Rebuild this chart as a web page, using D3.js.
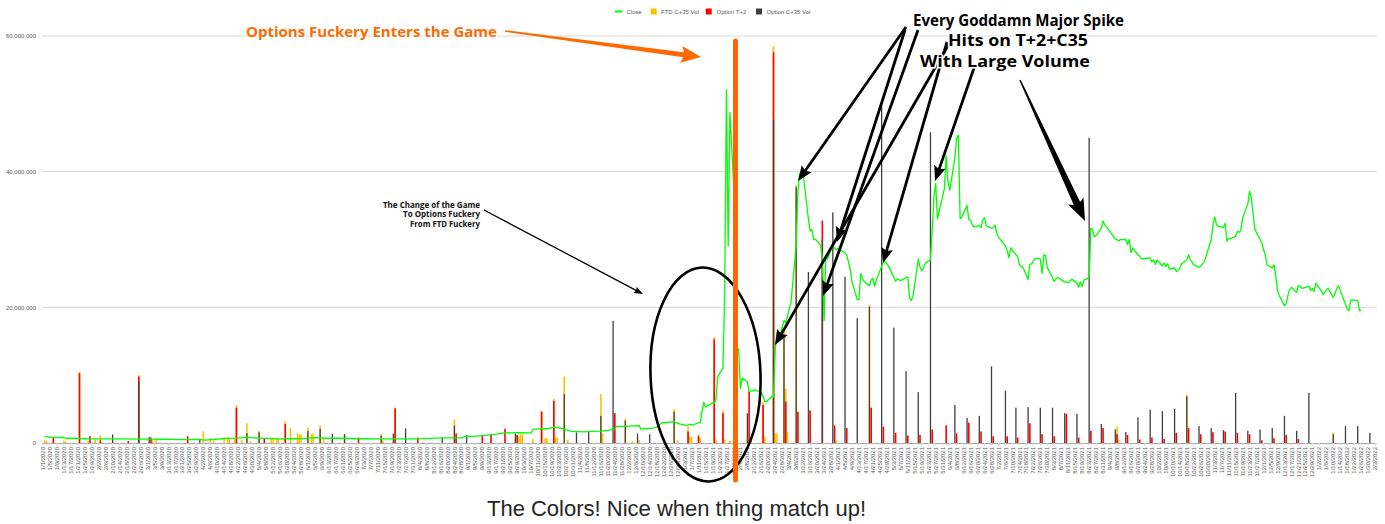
<!DOCTYPE html>
<html><head><meta charset="utf-8">
<script src="https://cdn.jsdelivr.net/npm/d3@7"></script>
<style>body{margin:0;background:#fff;} svg{display:block;}</style>
</head><body><svg id="c" width="1385" height="524"></svg>
<script>
// ---------------- DATA (values in millions) ----------------
const startDate = "1/1/2020", endDate = "2/3/2022";
const yTicks = [0, 20, 40, 60];
const yTickLabels = ["0", "20,000,000", "40,000,000", "60,000,000"];
const legendLabels = ["Close", "FTD C+35 Vol", "Option T+2", "Option C+35 Vol"];
const captionText = "The Colors! Nice when thing match up!";
const titleOrange = "Options Fuckery Enters the Game";
const noteBig = ["Every Goddamn Major Spike", "Hits on T+2+C35", "With Large Volume"];
const noteSmall = ["The Change of the Game", "To Options Fuckery", "From FTD Fuckery"];

const closeSeries = [
["1/2/2020",0.95],["1/7/2020",0.83],["1/13/2020",0.81],["1/14/2020",0.70],["1/21/2020",0.66],["1/28/2020",0.62],
["2/4/2020",0.60],["2/11/2020",0.61],["2/18/2020",0.62],["2/25/2020",0.57],["3/3/2020",0.58],["3/10/2020",0.55],
["3/17/2020",0.53],["3/24/2020",0.50],["3/31/2020",0.53],["4/3/2020",0.42],["4/9/2020",0.55],["4/14/2020",0.66],
["4/21/2020",0.72],["4/27/2020",0.82],["5/1/2020",0.75],["5/8/2020",0.68],["5/15/2020",0.62],["5/22/2020",0.63],
["5/29/2020",0.64],["6/5/2020",0.78],["6/12/2020",0.70],["6/19/2020",0.70],["6/26/2020",0.66],["7/2/2020",0.63],
["7/10/2020",0.60],["7/17/2020",0.61],["7/24/2020",0.60],["7/31/2020",0.60],["8/7/2020",0.65],["8/14/2020",0.72],
["8/21/2020",0.76],["8/28/2020",0.75],["8/31/2020",1.00],["9/4/2020",0.98],["9/11/2020",1.13],["9/17/2020",1.30],
["9/22/2020",1.50],["9/30/2020",1.53],["10/7/2020",1.50],["10/8/2020",1.95],["10/9/2020",2.05],["10/14/2020",2.10],
["10/16/2020",2.10],["10/21/2020",2.35],["10/26/2020",2.05],["10/30/2020",1.70],["11/6/2020",1.65],["11/11/2020",1.70],
["11/16/2020",1.75],["11/20/2020",1.85],["11/24/2020",2.05],["11/25/2020",2.45],["12/1/2020",2.45],["12/4/2020",2.53],
["12/8/2020",2.55],["12/9/2020",2.05],["12/11/2020",2.10],["12/16/2020",2.20],["12/18/2020",2.35],["12/21/2020",3.00],
["12/23/2020",3.02],["12/28/2020",3.10],["12/31/2020",2.83],
["1/4/2021",2.59],["1/5/2021",2.61],["1/6/2021",2.75],["1/7/2021",2.71],["1/8/2021",2.65],["1/11/2021",2.99],
["1/12/2021",2.99],["1/13/2021",4.71],["1/14/2021",5.99],["1/15/2021",5.33],["1/19/2021",5.90],["1/20/2021",5.87],
["1/21/2021",6.45],["1/22/2021",9.75],["1/25/2021",11.0],["1/26/2021",22.2],["1/27/2021",52.1],["1/28/2021",29.0],
["1/29/2021",48.75],["2/1/2021",33.75],["2/2/2021",13.5],["2/3/2021",13.86],["2/4/2021",8.03],["2/5/2021",9.57],
["2/8/2021",9.0],["2/9/2021",7.55],["2/10/2021",7.68],["2/11/2021",7.67],["2/12/2021",7.86],["2/16/2021",7.43],
["2/17/2021",6.89],["2/18/2021",6.10],["2/19/2021",6.09],["2/22/2021",6.90],["2/23/2021",6.75],["2/24/2021",13.76],
["2/25/2021",16.31],["2/26/2021",15.26],["3/1/2021",18.06],["3/2/2021",17.73],["3/3/2021",18.63],["3/4/2021",19.85],
["3/5/2021",20.66],["3/8/2021",29.18],["3/9/2021",37.04],["3/10/2021",39.75],["3/11/2021",39.0],["3/12/2021",39.68],
["3/15/2021",33.02],["3/16/2021",31.23],["3/17/2021",31.47],["3/18/2021",30.04],["3/19/2021",30.04],["3/22/2021",29.17],
["3/23/2021",27.26],["3/24/2021",18.05],["3/25/2021",27.56],["3/26/2021",27.15],["3/29/2021",29.17],["3/30/2021",28.72],
["3/31/2021",28.47],["4/1/2021",28.72],["4/5/2021",28.04],["4/6/2021",27.68],["4/7/2021",26.70],["4/8/2021",25.54],
["4/9/2021",23.75],["4/12/2021",21.16],["4/13/2021",21.15],["4/14/2021",24.98],["4/15/2021",24.26],["4/16/2021",23.78],
["4/19/2021",23.20],["4/20/2021",24.06],["4/21/2021",24.30],["4/22/2021",23.09],["4/23/2021",24.03],["4/26/2021",26.05],
["4/27/2021",26.67],["4/28/2021",26.79],["4/29/2021",26.43],["4/30/2021",26.04],["5/3/2021",24.42],["5/4/2021",23.83],
["5/5/2021",24.20],["5/6/2021",24.07],["5/7/2021",23.94],["5/10/2021",24.42],["5/11/2021",24.50],["5/12/2021",21.39],
["5/13/2021",21.01],["5/14/2021",21.63],["5/17/2021",27.09],["5/18/2021",25.95],["5/19/2021",25.37],["5/20/2021",25.84],
["5/21/2021",26.52],["5/24/2021",27.0],["5/25/2021",31.41],["5/26/2021",36.38],["5/27/2021",38.25],["5/28/2021",33.06],
["6/1/2021",37.5],["6/2/2021",42.34],["6/3/2021",38.73],["6/4/2021",37.25],["6/7/2021",42.0],["6/8/2021",45.0],
["6/9/2021",45.38],["6/10/2021",33.06],["6/11/2021",33.3],["6/14/2021",35.0],["6/15/2021",32.93],["6/16/2021",32.86],
["6/17/2021",32.13],["6/18/2021",31.85],["6/21/2021",32.04],["6/22/2021",31.74],["6/23/2021",32.85],["6/24/2021",33.21],
["6/25/2021",31.99],["6/28/2021",31.67],["6/29/2021",31.73],["6/30/2021",32.12],["7/1/2021",30.89],["7/2/2021",30.34],
["7/6/2021",29.04],["7/7/2021",28.36],["7/8/2021",27.30],["7/9/2021",28.76],["7/12/2021",27.74],["7/13/2021",27.49],
["7/14/2021",26.28],["7/15/2021",26.02],["7/16/2021",25.94],["7/19/2021",24.12],["7/20/2021",26.38],["7/21/2021",26.39],
["7/22/2021",26.76],["7/23/2021",27.22],["7/26/2021",27.14],["7/27/2021",25.01],["7/28/2021",27.72],["7/29/2021",27.63],
["7/30/2021",25.86],["8/2/2021",24.39],["8/3/2021",23.78],["8/4/2021",24.21],["8/5/2021",24.39],["8/6/2021",24.25],
["8/9/2021",23.72],["8/10/2021",23.73],["8/11/2021",23.63],["8/12/2021",23.85],["8/13/2021",24.16],["8/16/2021",23.57],
["8/17/2021",23.0],["8/18/2021",23.76],["8/19/2021",23.06],["8/20/2021",24.0],["8/23/2021",24.38],["8/24/2021",31.69],
["8/25/2021",31.43],["8/26/2021",30.38],["8/27/2021",30.62],["8/30/2021",31.65],["8/31/2021",32.74],["9/1/2021",32.10],
["9/2/2021",31.86],["9/3/2021",31.5],["9/7/2021",30.05],["9/8/2021",29.97],["9/9/2021",29.8],["9/10/2021",29.99],
["9/13/2021",30.01],["9/14/2021",29.25],["9/15/2021",30.0],["9/16/2021",28.06],["9/17/2021",28.73],["9/20/2021",27.75],
["9/21/2021",27.53],["9/22/2021",27.15],["9/23/2021",27.19],["9/24/2021",27.2],["9/27/2021",27.3],["9/28/2021",26.7],
["9/29/2021",27.0],["9/30/2021",26.32],["10/1/2021",27.0],["10/4/2021",26.1],["10/5/2021",26.55],["10/6/2021",26.0],
["10/7/2021",26.4],["10/8/2021",25.65],["10/11/2021",25.8],["10/12/2021",25.3],["10/13/2021",25.4],["10/14/2021",25.8],
["10/15/2021",26.4],["10/18/2021",27.0],["10/19/2021",27.75],["10/20/2021",27.0],["10/21/2021",26.7],["10/22/2021",26.25],
["10/25/2021",25.9],["10/26/2021",26.1],["10/27/2021",26.4],["10/28/2021",26.7],["10/29/2021",27.5],["11/1/2021",30.0],
["11/2/2021",32.1],["11/3/2021",33.3],["11/4/2021",32.25],["11/5/2021",31.95],["11/8/2021",31.8],["11/9/2021",32.4],
["11/10/2021",29.7],["11/11/2021",30.15],["11/12/2021",30.15],["11/15/2021",30.45],["11/16/2021",31.2],["11/17/2021",31.05],
["11/18/2021",31.35],["11/19/2021",33.15],["11/22/2021",35.25],["11/23/2021",37.13],["11/24/2021",36.15],["11/26/2021",31.5],
["11/29/2021",30.0],["11/30/2021",29.55],["12/1/2021",28.5],["12/2/2021",27.75],["12/3/2021",26.25],["12/6/2021",25.8],
["12/7/2021",26.25],["12/8/2021",24.75],["12/9/2021",22.5],["12/10/2021",21.75],["12/13/2021",20.25],["12/14/2021",20.55],
["12/15/2021",21.75],["12/16/2021",22.65],["12/17/2021",22.95],["12/20/2021",22.2],["12/21/2021",23.25],["12/22/2021",23.1],
["12/23/2021",22.8],["12/27/2021",23.1],["12/28/2021",22.5],["12/29/2021",22.8],["12/30/2021",22.35],["12/31/2021",23.55],
["1/3/2022",22.5],["1/4/2022",21.9],["1/5/2022",22.2],["1/6/2022",22.5],["1/7/2022",22.8],["1/10/2022",21.45],
["1/11/2022",22.05],["1/12/2022",22.8],["1/13/2022",23.2],["1/14/2022",22.5],["1/18/2022",19.8],["1/19/2022",19.5],
["1/20/2022",21.0],["1/21/2022",21.1],["1/24/2022",21.0],["1/25/2022",19.5],["1/26/2022",19.6]
];

const ftdVol = [
["1/2/2020",0.4],["1/3/2020",0.35],["1/13/2020",0.35],["1/14/2020",0.3],["1/22/2020",10.5],["1/27/2020",0.3],
["1/31/2020",0.5],["2/3/2020",1.1],["2/10/2020",0.3],["2/25/2020",10.0],["3/4/2020",0.4],["3/6/2020",0.6],
["3/24/2020",0.3],["4/2/2020",1.7],["4/6/2020",0.7],["4/8/2020",0.4],["4/14/2020",0.8],["4/16/2020",0.9],
["4/17/2020",0.7],["4/20/2020",0.6],["4/21/2020",5.6],["4/24/2020",0.5],["4/27/2020",2.9],["4/29/2020",0.3],
["5/4/2020",1.8],["5/11/2020",0.6],["5/12/2020",0.7],["5/14/2020",0.8],["5/15/2020",0.6],["5/19/2020",3.2],
["5/22/2020",2.2],["5/26/2020",1.4],["5/27/2020",1.2],["5/28/2020",1.3],["6/1/2020",2.3],["6/3/2020",1.3],
["6/4/2020",1.4],["6/8/2020",2.6],["6/10/2020",0.8],["6/15/2020",0.5],["6/22/2020",1.2],["7/13/2020",1.3],
["7/14/2020",0.4],["7/21/2020",5.2],["8/24/2020",3.5],["9/28/2020",0.6],["9/30/2020",0.9],["10/1/2020",1.3],
["10/2/2020",1.3],["10/8/2020",0.6],["10/13/2020",4.8],["10/15/2020",0.7],["10/16/2020",0.7],["10/20/2020",6.5],
["10/21/2020",0.8],["10/22/2020",0.8],["10/26/2020",9.8],["10/28/2020",0.5],["11/16/2020",7.2],["11/17/2020",1.4],
["11/30/2020",3.6],["12/4/2020",0.3],["12/8/2020",0.5],["12/22/2020",0.4],["12/28/2020",5.0],["12/30/2020",0.4],
["1/5/2021",2.4],["1/6/2021",0.9],["1/7/2021",0.9],["1/11/2021",1.3],["1/12/2021",0.6],["1/20/2021",15.6],
["1/21/2021",0.5],["1/25/2021",4.8],["1/26/2021",0.5],["1/29/2021",0.3],["2/8/2021",0.4],["2/10/2021",0.4],
["2/17/2021",6.1],["2/18/2021",0.9],["2/23/2021",58.5],["2/24/2021",1.4],["2/25/2021",1.4],["3/1/2021",16.8],
["3/2/2021",8.0],["3/3/2021",1.6],["3/8/2021",38.0],["3/31/2021",0.4],["4/19/2021",20.3],["4/20/2021",0.3],
["9/8/2021",2.4],["9/9/2021",0.5],["10/18/2021",7.1],["1/10/2022",1.5]
];

const optionT2 = [
["1/7/2020",0.9],["1/22/2020",10.3],["1/28/2020",1.0],["2/3/2020",0.4],["2/19/2020",0.3],["2/25/2020",9.8],
["3/3/2020",0.8],["3/24/2020",1.0],["4/21/2020",5.2],["5/7/2020",0.6],["5/19/2020",2.8],["6/30/2020",0.8],
["7/21/2020",5.1],["8/3/2020",0.8],["8/25/2020",1.4],["9/9/2020",1.1],["9/14/2020",1.3],["9/22/2020",2.1],
["9/29/2020",1.2],["10/13/2020",4.6],["10/20/2020",6.2],["11/24/2020",4.4],["1/5/2021",1.7],["1/11/2021",1.0],
["1/20/2021",15.3],["1/25/2021",4.4],["2/2/2021",8.8],["2/9/2021",7.6],["2/17/2021",5.6],["2/23/2021",57.6],
["3/2/2021",6.1],["3/9/2021",4.6],["3/16/2021",4.8],["3/23/2021",32.8],["3/30/2021",2.6],["4/6/2021",2.2],
["4/20/2021",5.2],["4/27/2021",2.4],["5/4/2021",1.5],["5/11/2021",1.1],["5/18/2021",1.2],["5/25/2021",2.0],
["6/2/2021",2.6],["6/8/2021",1.4],["6/15/2021",3.0],["6/22/2021",1.7],["6/29/2021",1.0],["7/7/2021",1.0],
["7/13/2021",0.8],["7/20/2021",2.9],["7/27/2021",1.3],["8/3/2021",1.0],["8/10/2021",4.3],["8/17/2021",0.8],
["8/24/2021",1.8],["8/31/2021",2.2],["9/8/2021",1.3],["9/14/2021",1.2],["9/21/2021",0.5],["9/28/2021",0.8],
["10/5/2021",0.6],["10/12/2021",1.5],["10/19/2021",2.2],["10/26/2021",1.3],["11/2/2021",1.6],["11/9/2021",1.7],
["11/16/2021",1.5],["11/23/2021",1.3],["11/30/2021",0.4],["12/7/2021",0.7],["12/14/2021",1.2],["12/21/2021",0.6]
];

const optionC35 = [
["2/10/2020",1.25],["2/25/2020",9.0],["3/2/2020",0.9],["3/31/2020",0.6],["4/27/2020",1.45],["5/4/2020",1.57],
["6/1/2020",1.77],["6/8/2020",2.1],["6/15/2020",1.3],["6/22/2020",1.3],["7/13/2020",1.1],["7/20/2020",1.4],
["7/27/2020",2.16],["8/17/2020",0.9],["8/24/2020",2.55],["8/31/2020",1.18],["9/28/2020",1.4],["10/26/2020",7.2],
["11/2/2020",1.57],["11/9/2020",1.7],["11/16/2020",4.0],["11/23/2020",18.0],["11/30/2020",3.3],["12/7/2020",1.4],
["12/14/2020",1.3],["12/28/2020",4.6],["2/8/2021",4.4],["2/23/2021",47.6],["3/1/2021",15.7],["3/8/2021",37.7],
["3/15/2021",25.2],["3/23/2021",29.9],["3/29/2021",34.0],["4/5/2021",24.5],["4/12/2021",18.4],["4/19/2021",20.1],
["4/26/2021",49.7],["5/3/2021",17.0],["5/10/2021",10.6],["5/17/2021",7.5],["5/24/2021",45.8],["6/7/2021",5.6],
["6/14/2021",3.7],["6/21/2021",4.0],["6/28/2021",11.3],["7/6/2021",7.7],["7/12/2021",5.2],["7/19/2021",5.3],
["7/26/2021",5.2],["8/2/2021",5.2],["8/9/2021",4.4],["8/16/2021",4.3],["8/23/2021",45.0],["8/30/2021",2.8],
["9/7/2021",2.0],["9/13/2021",1.6],["9/20/2021",3.8],["9/27/2021",4.9],["10/4/2021",4.7],["10/11/2021",5.0],
["10/18/2021",6.9],["10/25/2021",2.5],["11/1/2021",2.2],["11/8/2021",1.9],["11/15/2021",7.4],["11/22/2021",1.8],
["11/29/2021",2.0],["12/6/2021",2.2],["12/13/2021",4.0],["12/20/2021",1.8],["12/27/2021",7.4],["1/10/2022",1.3],
["1/17/2022",2.5],["1/24/2022",2.5],["1/31/2022",1.5]
];

// ---------------- CHART ----------------
const svg = d3.select("#c");
const parse = d3.timeParse("%m/%d/%Y");
const fmt = d => `${d.getMonth()+1}/${d.getDate()}/${d.getFullYear()}`;
const days = d3.timeDay.range(parse(startDate), d3.timeDay.offset(parse(endDate), 1));
const x = d3.scaleBand().domain(days.map(fmt)).range([42, 1376]);
const y = d3.scaleLinear().domain([0, 60]).range([443, 36]);
const cx = s => x(s) + x.bandwidth() / 2;
const colors = {close: "#00ff00", ftd: "#ffc000", t2: "#ff0000", c35: "#404040"};
const axisFont = "'Liberation Sans', Arial, sans-serif";

// gridlines
svg.append("g").selectAll("line").data(yTicks.filter(d => d > 0)).join("line")
  .attr("x1", 42).attr("x2", 1377).attr("y1", d => y(d)).attr("y2", d => y(d))
  .attr("stroke", "#d9d9d9").attr("stroke-width", 1);

// y axis labels
const yAxis = d3.axisLeft(y).tickValues(yTicks).tickFormat((d, i) => yTickLabels[i]).tickSize(0).tickPadding(3);
const gy = svg.append("g").attr("transform", "translate(39,0)").call(yAxis);
gy.select(".domain").remove();
gy.selectAll("text").attr("font-size", 6).attr("fill", "#595959").attr("font-family", axisFont);

// bars
function bars(data, color, w) {
  svg.append("g").selectAll("rect").data(data).join("rect")
    .attr("x", d => cx(d[0]) - w / 2).attr("width", w)
    .attr("y", d => y(d[1])).attr("height", d => y(0) - y(d[1]))
    .attr("fill", color);
}
bars(ftdVol, colors.ftd, 1.6);
bars(optionT2, colors.t2, 1.6);
bars(optionC35, colors.c35, 1.3);

// close line
svg.append("path").datum(closeSeries)
  .attr("d", d3.line().x(d => cx(d[0])).y(d => y(d[1])))
  .attr("fill", "none").attr("stroke", colors.close).attr("stroke-width", 1.3).attr("stroke-linejoin", "round");

// x axis
const xTickVals = days.filter((d, i) => i % 4 === 0).map(fmt);
const xAxis = d3.axisBottom(x).tickValues(xTickVals).tickSize(3).tickSizeOuter(0);
const gx = svg.append("g").attr("transform", "translate(0,443)").call(xAxis);
gx.select(".domain").attr("stroke", "#a6a6a6").attr("stroke-width", 1.2);
gx.selectAll(".tick line").attr("stroke", "#d9d9d9");
gx.selectAll("text").attr("font-size", 6).attr("fill", "#595959").attr("font-family", axisFont)
  .attr("transform", "rotate(-90)").attr("text-anchor", "end").attr("x", -4).attr("y", 0).attr("dy", "0.35em");

// legend
const lg = svg.append("g").attr("font-family", axisFont).attr("font-size", 6).attr("fill", "#595959");
const legendItems = [
  {label: legendLabels[0], color: colors.close, type: "line", x: 615, tx: 626.5},
  {label: legendLabels[1], color: colors.ftd, type: "rect", x: 650.7, tx: 661},
  {label: legendLabels[2], color: colors.t2, type: "rect", x: 705.7, tx: 716.5},
  {label: legendLabels[3], color: colors.c35, type: "rect", x: 756, tx: 766.5}
];
legendItems.forEach(it => {
  if (it.type === "line") lg.append("line").attr("x1", it.x).attr("x2", it.x + 7.5).attr("y1", 11.5).attr("y2", 11.5).attr("stroke", it.color).attr("stroke-width", 2);
  else lg.append("rect").attr("x", it.x).attr("y", 8.5).attr("width", 6).attr("height", 6).attr("fill", it.color);
  lg.append("text").attr("x", it.tx).attr("y", 13.6).text(it.label);
});

// ---------------- ANNOTATIONS ----------------
function arrow(x1, y1, x2, y2, w1, w2, L, W, color) {
  const dx = x2 - x1, dy = y2 - y1, len = Math.hypot(dx, dy);
  const ux = dx / len, uy = dy / len, nx = -uy, ny = ux;
  const bx = x2 - ux * L, by = y2 - uy * L;
  const bk = 0.25 * L;
  const pts = [
    [x1 + nx * w1 / 2, y1 + ny * w1 / 2],
    [bx + nx * w2 / 2 + ux * bk * 0.5, by + ny * w2 / 2 + uy * bk * 0.5],
    [bx + nx * W / 2, by + ny * W / 2],
    [x2, y2],
    [bx - nx * W / 2, by - ny * W / 2],
    [bx - nx * w2 / 2 + ux * bk * 0.5, by - ny * w2 / 2 + uy * bk * 0.5],
    [x1 - nx * w1 / 2, y1 - ny * w1 / 2]
  ];
  svg.append("polygon").attr("points", pts.map(p => p.join(",")).join(" ")).attr("fill", color);
}

// ellipse
svg.append("ellipse").attr("cx", 705.5).attr("cy", 374.5).attr("rx", 55).attr("ry", 107)
  .attr("transform", "rotate(-2,705.5,374.5)")
  .attr("fill", "none").attr("stroke", "#000").attr("stroke-width", 2.6);

// orange vertical line
svg.append("line").attr("x1", 735.5).attr("x2", 735.5).attr("y1", 41).attr("y2", 480)
  .attr("stroke", "#ff6600").attr("stroke-width", 5).attr("stroke-linecap", "round");

// orange arrow + title
arrow(505, 31, 701, 57, 1.5, 5, 20, 17, "#ff6a00");
svg.append("text").attr("x", 246).attr("y", 37).text(titleOrange)
  .attr("font-family", "'Open Sans', sans-serif").attr("font-weight", 700).attr("font-size", 15)
  .attr("fill", "#ff6a00").attr("textLength", 251).attr("lengthAdjust", "spacingAndGlyphs")
  .attr("stroke", "#fff").attr("stroke-width", 2.5).attr("paint-order", "stroke");

// small note + thin arrow
const smallRight = 480, smallBase = [207.5, 217.3, 227];
noteSmall.forEach((t, i) => {
  svg.append("text").attr("x", smallRight).attr("y", smallBase[i]).attr("text-anchor", "end").text(t)
    .attr("font-family", "'Open Sans', sans-serif").attr("font-weight", 700).attr("font-size", 8)
    .attr("fill", "#111").attr("textLength", [97, 77, 70][i]).attr("lengthAdjust", "spacingAndGlyphs")
    .attr("stroke", "#fff").attr("stroke-width", 2).attr("paint-order", "stroke");
});
arrow(484, 210, 643, 294, 1.3, 1.3, 9, 7, "#000");

// big black arrows
arrow(906, 27, 798, 181, 2.8, 2.8, 15, 12, "#000");
arrow(905, 30, 837, 242, 2.8, 2.8, 15, 12, "#000");
arrow(918, 30, 823, 296, 2.8, 2.8, 15, 12, "#000");
arrow(950, 42, 775, 345, 2.8, 2.8, 15, 12, "#000");
arrow(947, 42, 883, 263, 2.8, 2.8, 15, 12, "#000");
arrow(974, 68, 935, 181, 2.8, 2.8, 15, 12, "#000");
arrow(1020, 80, 1085, 221, 1.5, 7, 22, 17, "#000");

// big note
const bigX = [1018.5, 1018, 1005], bigBase = [25.5, 46, 66.5], bigW = [211, 140, 170];
noteBig.forEach((t, i) => {
  svg.append("text").attr("x", bigX[i]).attr("y", bigBase[i]).attr("text-anchor", "middle").text(t)
    .attr("font-family", "'Open Sans', sans-serif").attr("font-weight", 700).attr("font-size", 15.5)
    .attr("fill", "#000").attr("textLength", bigW[i]).attr("lengthAdjust", "spacingAndGlyphs")
    .attr("stroke", "#fff").attr("stroke-width", 3).attr("paint-order", "stroke");
});

// caption
svg.append("text").attr("x", 676.5).attr("y", 516).attr("text-anchor", "middle").text(captionText)
  .attr("font-family", "'Liberation Sans', Arial, sans-serif").attr("font-size", 22).attr("fill", "#262626");
</script></body></html>
